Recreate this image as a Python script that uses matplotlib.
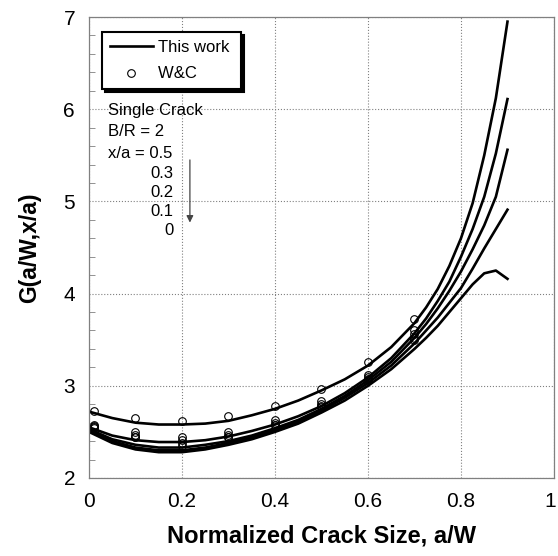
import numpy as np
import matplotlib
matplotlib.use('Agg')
import matplotlib.pyplot as plt
from matplotlib.ticker import MultipleLocator
from matplotlib.transforms import ScaledTranslation

plt.rcParams['font.family'] = ['Liberation Sans', 'DejaVu Sans']

# нормированная длина трещины
aw = [0, 0.05, 0.1, 0.15, 0.2, 0.25, 0.3, 0.35, 0.4, 0.45, 0.5, 0.55, 0.6,
      0.65, 0.7, 0.725, 0.75, 0.775, 0.8, 0.825, 0.85, 0.875, 0.9]

# кривые "This work" для x/a = 0.5, 0.3, 0.2, 0.1, 0
g_05 = [2.72, 2.65, 2.60, 2.58, 2.58, 2.59, 2.62, 2.68, 2.75, 2.84, 2.95, 3.07,
        3.22, 3.42, 3.68, 3.85, 4.05, 4.30, 4.60, 4.98, 5.50, 6.12, 6.95]
g_03 = [2.55, 2.46, 2.41, 2.39, 2.39, 2.41, 2.45, 2.51, 2.58, 2.67, 2.78, 2.92,
        3.09, 3.30, 3.57, 3.73, 3.92, 4.13, 4.40, 4.70, 5.05, 5.52, 6.11]
g_02 = [2.53, 2.42, 2.36, 2.33, 2.33, 2.36, 2.40, 2.46, 2.54, 2.63, 2.75, 2.89,
        3.06, 3.26, 3.52, 3.67, 3.84, 4.03, 4.24, 4.48, 4.74, 5.05, 5.56]
g_01 = [2.51, 2.40, 2.33, 2.30, 2.30, 2.33, 2.38, 2.44, 2.52, 2.61, 2.73, 2.87,
        3.03, 3.22, 3.46, 3.60, 3.74, 3.90, 4.06, 4.27, 4.49, 4.70, 4.91]
g_00 = [2.50, 2.38, 2.31, 2.28, 2.28, 2.31, 2.36, 2.42, 2.50, 2.59, 2.71, 2.84,
        3.00, 3.18, 3.40, 3.52, 3.65, 3.80, 3.95, 4.10, 4.22, 4.25, 4.16]

# точки W&C
wc_aw = [0.01, 0.1, 0.2, 0.3, 0.4, 0.5, 0.6, 0.7]
wc_05 = [2.73, 2.65, 2.62, 2.67, 2.78, 2.97, 3.26, 3.72]
wc_03 = [2.58, 2.50, 2.44, 2.50, 2.63, 2.83, 3.12, 3.60]
wc_02 = [2.56, 2.47, 2.41, 2.47, 2.60, 2.80, 3.10, 3.56]
wc_01 = [2.55, 2.45, 2.38, 2.45, 2.58, 2.78, 3.07, 3.52]
wc_00 = [2.54, 2.44, 2.35, 2.44, 2.57, 2.77, 3.06, 3.50]

xa_labels = ['0.3', '0.2', '0.1', '0']

fig = plt.figure(figsize=(5.58, 5.56), dpi=100)
ax = fig.add_axes([0.1595, 0.1403, 0.8333, 0.8291])

for i, g in enumerate([g_05, g_03, g_02, g_01, g_00]):
    ax.plot(aw, g, color='black', lw=1.9, solid_joinstyle='round',
            label='This work' if i == 0 else None)
for i, g in enumerate([wc_05, wc_03, wc_02, wc_01, wc_00]):
    ax.plot(wc_aw, g, 'o', mfc='none', mec='black', ms=5.5, mew=0.8,
            label='W&C' if i == 0 else None)

ax.set_xlim(0, 1)
ax.set_ylim(2, 7)
ax.yaxis.set_major_locator(MultipleLocator(1))
ax.yaxis.set_minor_locator(MultipleLocator(0.2))
ax.set_xticks([0, 0.2, 0.4, 0.6, 0.8, 1.0], ['0', '0.2', '0.4', '0.6', '0.8', '1'])
ax.tick_params(axis='both', which='major', length=0, labelsize=15, pad=10)
ax.tick_params(axis='y', which='minor', direction='in', length=4, color='gray', width=0.6)
ax.grid(True, which='major', ls=':', color='gray', lw=0.8)
for s in ax.spines.values():
    s.set_color('gray')
    s.set_linewidth(0.9)

ax.set_xlabel('Normalized Crack Size, a/W', fontsize=17, fontweight='bold', labelpad=10)
ax.set_ylabel('G(a/W,x/a)', fontsize=16.5, fontweight='bold', labelpad=16)

leg = ax.legend(loc='upper left', bbox_to_anchor=(0.028, 0.967), borderaxespad=0,
                fontsize=12, frameon=True, fancybox=False, handlelength=2.6,
                handletextpad=0.3, borderpad=0.45, labelspacing=0.7,
                shadow={'color': 'black', 'alpha': 1, 'ox': 2, 'oy': -2})
leg.get_frame().set_edgecolor('black')
leg.get_frame().set_linewidth(1.5)
leg.get_frame().set_facecolor('white')
# небольшой запас справа в рамке легенды
for t in leg.get_texts():
    t.set_text(t.get_text() + ' ')

# подписи
ax.text(0.041, 5.99, 'Single Crack', fontsize=12, va='center')
ax.text(0.041, 5.76, 'B/R = 2', fontsize=12, va='center')
ax.text(0.041, 5.52, 'x/a = 0.5', fontsize=12, va='center')
for k, lab in enumerate(xa_labels):
    ax.text(0.181, 5.30 - 0.205 * k, lab, fontsize=12, va='center', ha='right')
ax.annotate('', xy=(0.217, 4.74), xytext=(0.217, 5.48),
            arrowprops=dict(arrowstyle='-|>', color='#444444', lw=0.9,
                            mutation_scale=10))

# последняя подпись "1" чуть левее, чтобы не обрезалась краем
fig.canvas.draw()
last = ax.xaxis.get_major_ticks()[-1].label1
last.set_transform(last.get_transform() + ScaledTranslation(-3 / 72, 0, fig.dpi_scale_trans))

fig.savefig('out.png', dpi=100)
